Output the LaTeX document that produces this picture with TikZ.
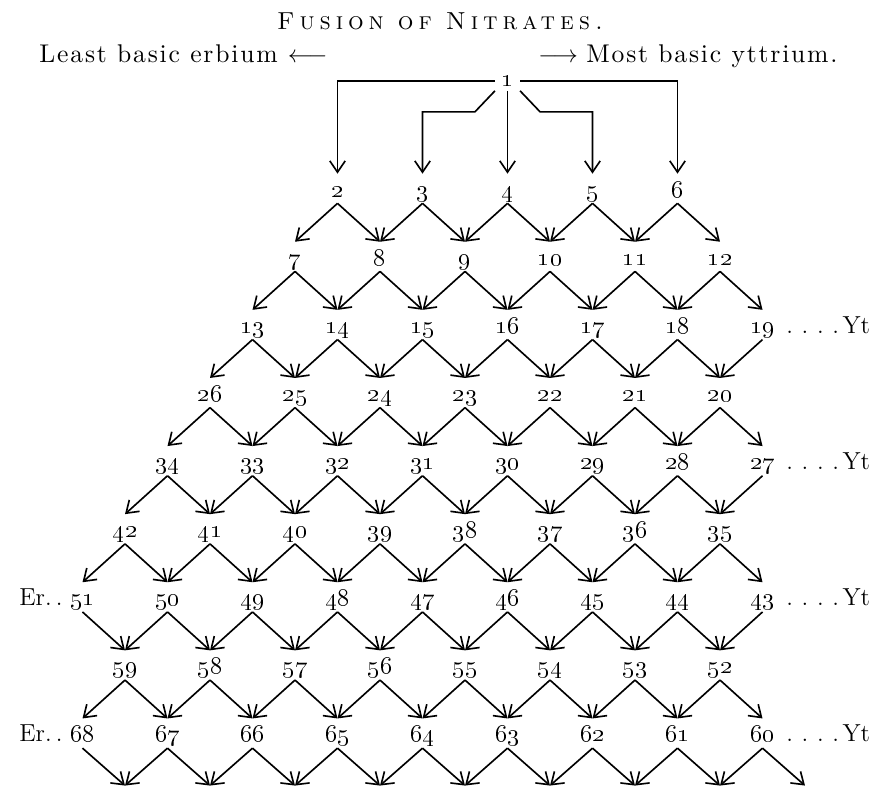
\documentclass[tikz,border=0pt]{standalone}
\usepackage{tikz}
\usetikzlibrary{arrows.meta}
\font\titlefont="[lmromancaps10-regular]:mapping=tex-text;letterspace=20" at 12pt
\font\sidefont="[lmroman10-regular]:mapping=tex-text;letterspace=7" at 12.5pt
\newcommand\toYt{.\hspace{.35em}.\hspace{.35em}.\hspace{.35em}.\hspace{.15em}Yt}

\begin{document}
\begin{tikzpicture}[x=0.01715cm,y=-0.01715cm,every node/.style={font=\fontsize{13}{15}\selectfont},num/.style={anchor=base,inner sep=0pt,text height=11.2pt,text depth=2.9pt},lab/.style={inner sep=0pt,font=\fontsize{12}{14}\selectfont},side/.style={inner sep=0pt,font=\fontsize{12.5}{15}\selectfont},arr/.style={-{Straight Barb[length=5.5pt,width=7.5pt]},line width=0.8pt}]
\useasboundingbox (0,0) rectangle (875,790);
% heading
\node[anchor=base,inner sep=0pt] (title) at (440,30) {\titlefont Fusion of Nitrates.};
\node[side,anchor=base east] (least) at (328,63) {\sidefont Least basic erbium \normalfont$\longleftarrow$};
\node[side,anchor=base west] (most) at (538,63) {$\longrightarrow$ \sidefont Most basic yttrium.};
% the rows of fractions
\node[inner xsep=3pt,inner ysep=2pt] (n1) at (507.5,81) {\oldstylenums{1}};
\foreach \r/\ks/\nums in {1/6/{2,...,6},2/5/{7,...,12},3/4/{13,...,19},4/3/{26,25,...,20},5/2/{34,33,...,27},6/1/{42,41,...,35},7/0/{51,50,...,43},8/1/{59,58,...,52},9/0/{68,67,...,60}}
  \foreach \n [count=\i from 0] in \nums {
    \pgfmathtruncatemacro\kk{\ks+2*\i}
    \node[num] (p-\r-\kk) at ({82.5+42.5*\kk},{197+68.1*(\r-1)}) {\oldstylenums{\n}};
  }
\foreach \k in {1,3,...,17}
  \node[inner sep=0pt] (p-10-\k) at ({82.5+42.5*\k},787) {};
\foreach \r in {3,5,7,9}
  \node[lab,anchor=base west] (yt\r) at (786,{197+68.1*(\r-1)}) {\toYt};
\foreach \r in {7,9}
  \node[lab,anchor=base east] (er\r) at (63,{197+68.1*(\r-1)}) {Er.\,.};
% first fusion
\draw[arr] (n1.west) -| (p-1-6.north);
\draw[arr] (n1.east) -| (p-1-14.north);
\draw[arr] (n1.south) -- (p-1-10.north);
\draw[arr] (n1.south west) -- ++(-20,21) -| (p-1-8.north);
\draw[arr] (n1.south east) -- ++(20,21) -| (p-1-12.north);
% each fraction splits into the two below it
\foreach \r in {1,...,9}
  \foreach \k in {0,...,16}{
    \pgfmathtruncatemacro\s{\r+1}
    \pgfmathtruncatemacro\kl{\k-1}
    \pgfmathtruncatemacro\kr{\k+1}
    \ifcsname pgf@sh@ns@p-\r-\k\endcsname
      \ifcsname pgf@sh@ns@p-\s-\kl\endcsname \draw[arr] (p-\r-\k.south) -- (p-\s-\kl.north); \fi
      \ifcsname pgf@sh@ns@p-\s-\kr\endcsname \draw[arr] (p-\r-\k.south) -- (p-\s-\kr.north); \fi
    \fi}
\end{tikzpicture}
\end{document}
